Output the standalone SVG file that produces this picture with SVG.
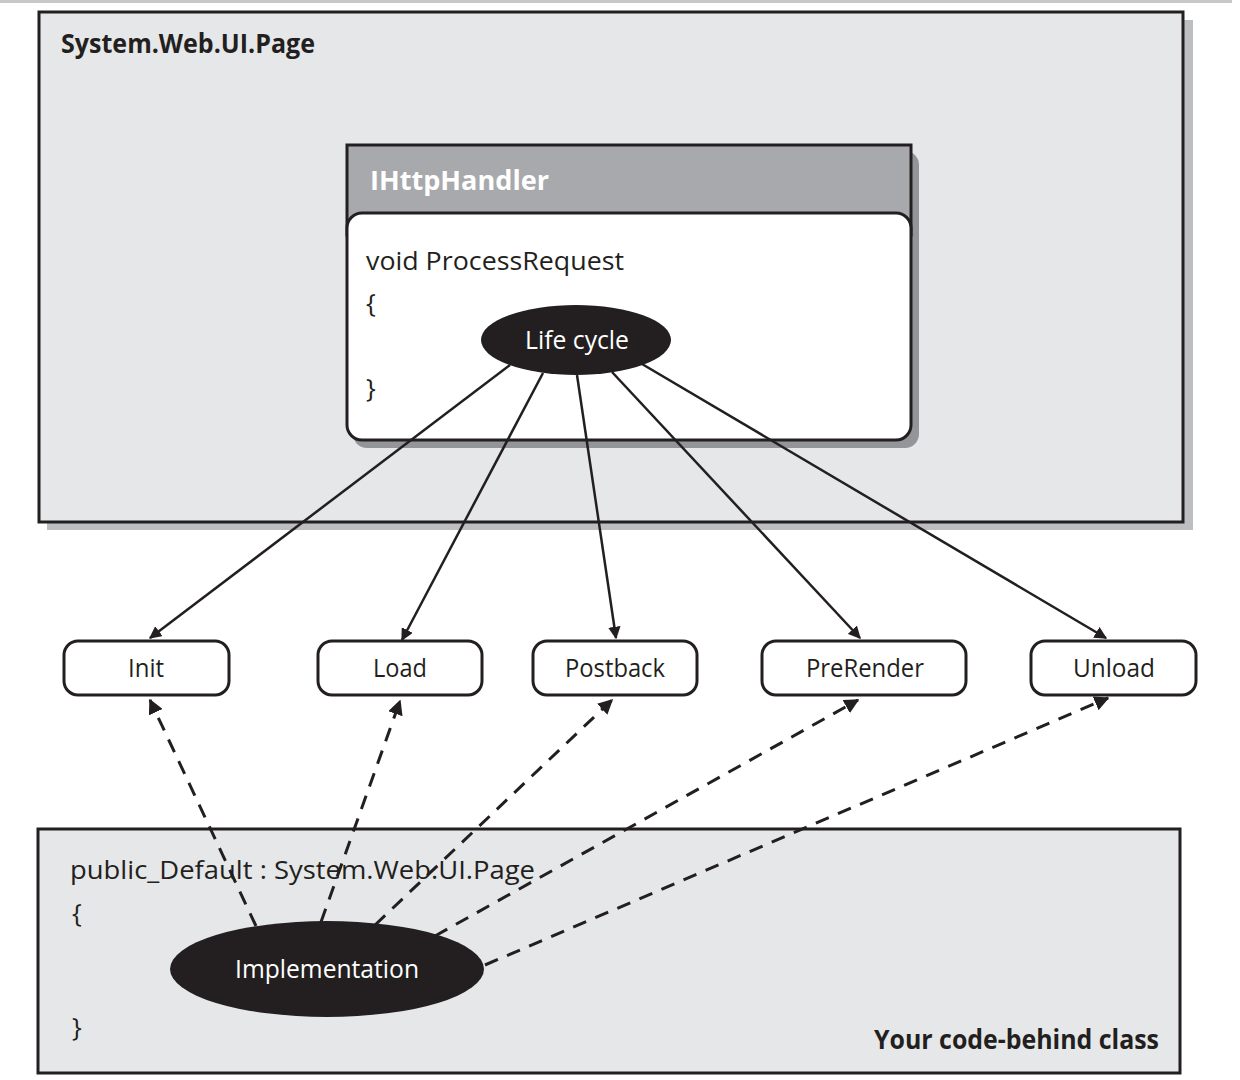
<svg xmlns="http://www.w3.org/2000/svg" width="1240" height="1080" viewBox="0 0 1240 1080">
<defs>
<style>
.t{font-family:"Open Sans","Noto Sans","DejaVu Sans",sans-serif;fill:#231f20;font-size:26px;}
.b{font-weight:bold;}
.w{fill:#ffffff;}
.box{fill:#e6e7e8;stroke:#231f20;stroke-width:3;}
.node{fill:#ffffff;stroke:#231f20;stroke-width:3;}
.solid{fill:none;stroke:#231f20;stroke-width:2.5;marker-end:url(#ah);}
.dash{fill:none;stroke:#231f20;stroke-width:3;stroke-dasharray:14,10;marker-end:url(#ah);}
</style>
<marker id="ah" viewBox="0 0 10 10" refX="9" refY="5" markerWidth="5" markerHeight="5" orient="auto" markerUnits="strokeWidth">
<path d="M0,0 L10,5 L0,10 z" fill="#231f20"/>
</marker>
</defs>
<rect x="0" y="0" width="1232" height="3" fill="#c8c8c8"/>
<g id="page">
<rect x="47" y="20" width="1146" height="510" fill="#bcbec0"/>
<rect x="39" y="12" width="1144" height="510" class="box"/>
<text x="61" y="53" class="t b" textLength="254" lengthAdjust="spacingAndGlyphs">System.Web.UI.Page</text>
</g>
<g id="ihttphandler">
<rect x="353" y="151" width="566" height="297" rx="14" fill="#939598"/>
<rect x="347" y="145" width="564" height="90" fill="#a7a9ac" stroke="#231f20" stroke-width="3"/>
<rect x="347" y="213" width="564" height="227" rx="15" class="node"/>
<text x="370" y="190" class="t b w" textLength="179" lengthAdjust="spacingAndGlyphs">IHttpHandler</text>
<text x="366" y="270" class="t" textLength="258" lengthAdjust="spacingAndGlyphs">void ProcessRequest</text>
<text x="366" y="312" class="t">{</text>
<text x="366" y="397" class="t">}</text>
</g>
<g id="lifecycle">
<ellipse cx="576" cy="340" rx="95" ry="35" fill="#231f20"/>
<text x="525" y="349" class="t w" textLength="104" lengthAdjust="spacingAndGlyphs">Life cycle</text>
</g>
<g id="codebehind">
<rect x="38" y="829" width="1142" height="244" class="box"/>
<text x="70" y="879" class="t" textLength="465" lengthAdjust="spacingAndGlyphs">public_Default : System.Web.UI.Page</text>
<text x="72" y="922" class="t">{</text>
<text x="72" y="1036" class="t">}</text>
<text x="874" y="1049" class="t b" textLength="285" lengthAdjust="spacingAndGlyphs">Your code-behind class</text>
</g>
<g id="implementation">
<ellipse cx="327" cy="969" rx="157" ry="48" fill="#231f20"/>
<text x="235" y="978" class="t w" textLength="184" lengthAdjust="spacingAndGlyphs">Implementation</text>
</g>
<g id="init">
<rect x="64" y="641" width="165" height="54" rx="14" class="node"/>
<text x="128" y="677" class="t" textLength="36" lengthAdjust="spacingAndGlyphs">Init</text>
</g>
<g id="load">
<rect x="318" y="641" width="164" height="54" rx="14" class="node"/>
<text x="373" y="677" class="t" textLength="54" lengthAdjust="spacingAndGlyphs">Load</text>
</g>
<g id="postback">
<rect x="533" y="641" width="164" height="54" rx="14" class="node"/>
<text x="565" y="677" class="t" textLength="100" lengthAdjust="spacingAndGlyphs">Postback</text>
</g>
<g id="prerender">
<rect x="762" y="641" width="204" height="54" rx="14" class="node"/>
<text x="806" y="677" class="t" textLength="118" lengthAdjust="spacingAndGlyphs">PreRender</text>
</g>
<g id="unload">
<rect x="1031" y="641" width="165" height="54" rx="14" class="node"/>
<text x="1073" y="677" class="t" textLength="82" lengthAdjust="spacingAndGlyphs">Unload</text>
</g>
<g id="connectors">
<line x1="510" y1="365" x2="150" y2="638" class="solid"/>
<line x1="543" y1="373" x2="402" y2="640" class="solid"/>
<line x1="577" y1="375" x2="616" y2="638" class="solid"/>
<line x1="612" y1="372" x2="860" y2="638" class="solid"/>
<line x1="642" y1="364" x2="1106" y2="638" class="solid"/>
<line x1="256" y1="926" x2="150" y2="700" class="dash"/>
<line x1="321" y1="922" x2="400" y2="701" class="dash"/>
<line x1="375" y1="925" x2="612" y2="700" class="dash"/>
<line x1="435" y1="936" x2="858" y2="700" class="dash"/>
<line x1="485" y1="965" x2="1108" y2="698" class="dash"/>
</g>
</svg>
